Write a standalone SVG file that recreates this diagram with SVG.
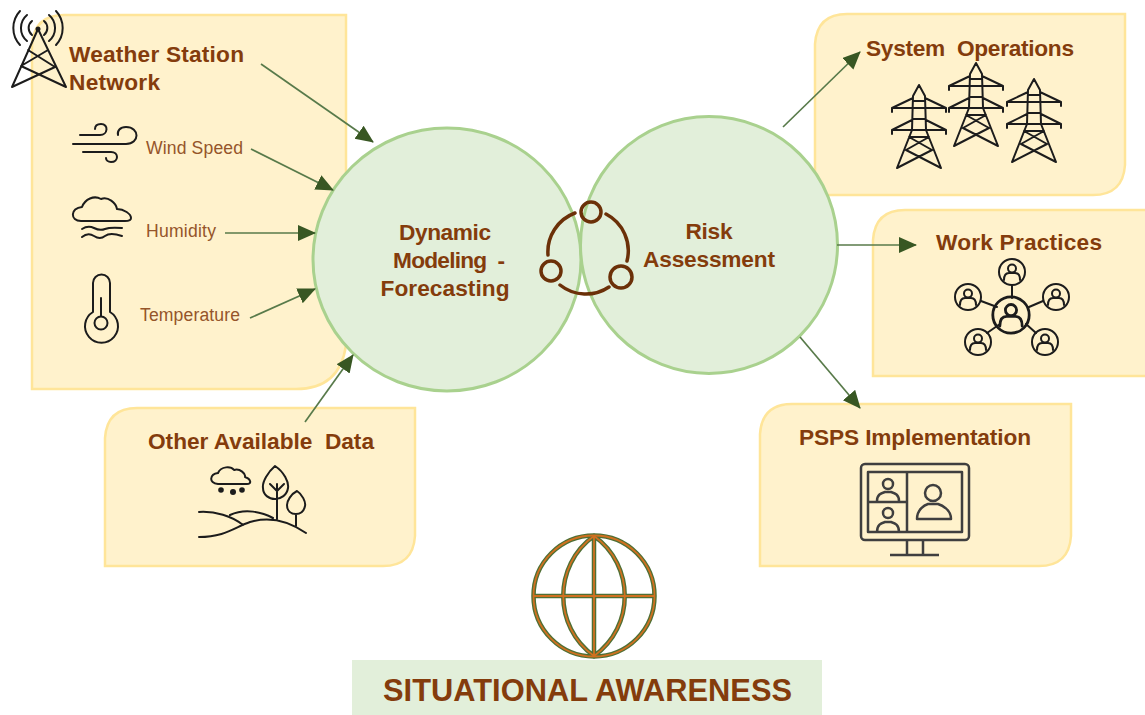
<svg xmlns="http://www.w3.org/2000/svg" width="1145" height="715" viewBox="0 0 1145 715">
<style>
.box{fill:#fff2cc;stroke:#ffe599;stroke-width:2.5}
.circ{fill:#e2efda;stroke:#a9d18e;stroke-width:3}
.t{font-family:"Liberation Sans",Arial,sans-serif;font-weight:bold;font-size:22.7px;fill:#843c0c;white-space:pre}
.m{text-anchor:middle}
.s{font-family:"Liberation Sans",Arial,sans-serif;font-size:17.6px;fill:#95552a}
.ic{fill:none;stroke:#1c1c1c;stroke-width:2;stroke-linecap:round;stroke-linejoin:round}
.arr{fill:none;stroke:#587a4a;stroke-width:1.7;marker-end:url(#ah)}
</style>
<defs>
<marker id="ah" markerUnits="userSpaceOnUse" markerWidth="20" markerHeight="18" refX="17" refY="8" orient="auto"><path d="M0,0L18,8L0,16Z" fill="#385723"/></marker>
<g id="pylon" class="ic">
<path d="M-6,11L0,0L6,11L7,45L22,83L-13,65L10,52M-6,11L-7,45L-22,83L13,65L-10,52M-6,13L-27,23V27M6,13L27,23V27M-27,23H27M-7,35L-27,45V49M7,35L27,45V49M-27,45H27M-6,16H6M-6,34H6M-10,52H10"/>
</g>
<g id="per" class="ic">
<circle r="13"/><circle cy="-3.500" r="4"/><path d="M-8,8C-8,2-5,1-3,1H3C5,1 8,2 8,8"/>
</g>
<g id="globe"><circle cx="594" cy="596" r="60.500"/><path d="M594,536C553,565 553,627 594,656C635,627 635,565 594,536ZM594,536V656M534,596H654"/></g>
</defs>

<g id="weather-station">
<path class="box" d="M32,45Q34,15 64,15H346V345Q340,389 296,389H32Z"/>
<g class="ic"><path d="M38,29L12,87L55,67L28,50M38,29L66,87L21,66L48,50"/><circle cx="38" cy="29" r="1.500" fill="#1c1c1c"/><path d="M32,21A9,9 0 0 0 32,35M44,21A9,9 0 0 1 44,35M27,15A17,17 0 0 0 27,41M49,15A17,17 0 0 1 49,41M20,11A25,25 0 0 0 20,45M56,11A25,25 0 0 1 56,45"/></g>
<text class="t" x="69" y="62" textLength="175">Weather Station</text>
<text class="t" x="69" y="90" textLength="91">Network</text>
<path class="ic" d="M80,135H100C108,135 109,124 101,124C97,124 95,126 95,129M73,144H126C140,144 140,127 126,127C120,127 117,131 118,135M83,152H111C119,152 119,162 111,162C108,162 106,160 106,158"/>
<text class="s" x="146" y="154" textLength="97">Wind Speed</text>
<path class="ic" d="M81,221C70,221 70,208 82,207C85,199 94,195 101,199C108,196 116,203 117,209C124,209 131,214 131,218C131,220 128,221 125,221ZM82,229Q88,225 94,228T105,229T122,228M82,237Q88,232 94,236T105,236T122,236"/>
<text class="s" x="146" y="237" textLength="70">Humidity</text>
<path class="ic" d="M93,312V283A8.500,8.500 0 0 1 110,283V312A16.500,16.500 0 1 1 93,312ZM101,298V316"/><circle class="ic" cx="101" cy="323" r="6.500"/>
<text class="s" x="140" y="321" textLength="100">Temperature</text>
</g>

<g id="other-data">
<path class="box" d="M105,438Q107,408 137,408H415V536Q413,566 383,566H105Z"/>
<text class="t" x="148" y="449" textLength="226">Other Available  Data</text>
<path class="ic" d="M218,484C208,483 210,474 218,473C221,466 231,466 234,470C240,468 246,474 245,477C251,479 252,484 247,484ZM199,512C215,511 232,516 243,525M230,515C245,508 262,512 273,518M199,537C225,537 235,527 250,522C270,516 290,522 306,533M277,484V519M277,491L270,484M277,491L284,484M275,466C284,472 289,482 288,488C287,495 281,499 275,499C269,499 263,495 263,488C262,482 268,472 275,466ZM297,491C302,494 306,502 305,506C304,511 301,514 296,514C291,514 287,511 287,505C287,501 291,494 297,491ZM296,514V526"/>
<circle cx="221" cy="490" r="2.800" fill="#1c1c1c"/><circle cx="233" cy="492" r="3" fill="#1c1c1c"/><circle cx="242" cy="490" r="2.800" fill="#1c1c1c"/>
</g>

<g id="system-operations">
<path class="box" d="M815,44Q817,14 847,14H1125V165Q1123,195 1093,195H815Z"/>
<text class="t" x="866" y="56" textLength="208">System  Operations</text>
<use href="#pylon" x="919" y="85"/><use href="#pylon" x="976" y="63"/><use href="#pylon" x="1034" y="79"/>
</g>

<g id="work-practices">
<path class="box" d="M873,240Q875,210 905,210H1147V376H873Z"/>
<text class="t" x="936" y="250" textLength="166">Work Practices</text>
<path class="ic" d="M1012,285V298M981,301L997,307M1043,301L1029,307M987,333L1000,324M1036,333L1026,324"/>
<use href="#per" x="1012" y="272"/><use href="#per" x="968" y="297"/><use href="#per" x="1056" y="297"/><use href="#per" x="978" y="342"/><use href="#per" x="1045" y="342"/>
<g transform="translate(1011,315) scale(1.4)"><use href="#per"/></g>
</g>

<g id="psps-implementation">
<path class="box" d="M760,434Q762,404 792,404H1071V536Q1069,566 1039,566H760Z"/>
<text class="t" x="799" y="445" textLength="232">PSPS Implementation</text>
<g fill="none" stroke="#3f3f3f" stroke-width="2.500" stroke-linejoin="round"><rect x="861" y="464" width="108" height="76" rx="4"/><rect x="868" y="472" width="94" height="60"/><path d="M907,472V532M868,502H907M907,540V555M923,540V555M890,555H939"/><circle cx="888" cy="484" r="5"/><path d="M877,501C877,494 882,493 885,492H891C894,493 899,494 899,501"/><circle cx="888" cy="513" r="5"/><path d="M877,532C877,524 882,523 885,522H891C894,523 899,524 899,532"/><circle cx="933" cy="493" r="8"/><path d="M917,519C917,509 925,505 928,504H938C941,505 951,509 951,519Z"/></g>
</g>

<g id="dynamic-modeling">
<ellipse class="circ" cx="447" cy="259.500" rx="134" ry="131.500"/>
<text class="t m" x="445" y="240" textLength="92">Dynamic</text><text class="t m" x="449" y="268" textLength="112">Modeling  -</text><text class="t m" x="445" y="296" textLength="129">Forecasting</text>
</g>
<g id="risk-assessment">
<circle class="circ" cx="709" cy="245" r="128.500"/>
<text class="t m" x="709" y="239" textLength="47">Risk</text><text class="t m" x="709" y="267" textLength="132">Assessment</text>
</g>

<g id="cycle" fill="none" stroke="#6b3008" stroke-width="3.500" stroke-linecap="round">
<path d="M575,213A41.500,41.500 0 0 0 548,255M606,214A41.500,41.500 0 0 1 627,261M560,285A41.500,41.500 0 0 0 609,287"/>
<circle cx="591" cy="212" r="10"/><circle cx="551" cy="271" r="10"/><circle cx="621" cy="277" r="11"/>
</g>

<g id="connectors">
<path class="arr" d="M261,64L373,142"/>
<path class="arr" d="M251,149L333,190"/>
<path class="arr" d="M225,233L315,233"/>
<path class="arr" d="M250,318L315,289"/>
<path class="arr" d="M305,422L353,355"/>
<path class="arr" d="M783,127L860,52"/>
<path class="arr" d="M837,245L916,245"/>
<path class="arr" d="M800,337L860,408"/>
</g>

<g id="situational-awareness">
<use href="#globe" fill="none" stroke="#4f6f35" stroke-width="4.500"/>
<use href="#globe" fill="none" stroke="#d0701f" stroke-width="1.800"/>
<rect x="352" y="660" width="470" height="55" fill="#e2efda"/>
<text class="t m" x="587.500" y="701" style="font-size:30.800px" textLength="409">SITUATIONAL AWARENESS</text>
</g>
</svg>
